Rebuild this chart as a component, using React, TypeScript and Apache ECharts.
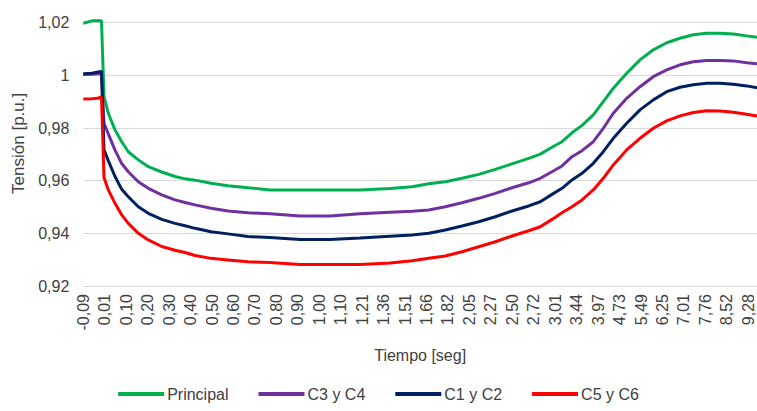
import React, { useEffect, useRef } from "react";
import * as echarts from "echarts";

// Tick labels of the category-like time axis (one label per tick)
const timeLabels = [
  "-0,09", "0,01", "0,10", "0,20", "0,30", "0,40", "0,50", "0,60", "0,70", "0,80",
  "0,90", "1,00", "1,10", "1,21", "1,36", "1,51", "1,66", "1,82", "2,05", "2,27",
  "2,50", "2,72", "3,01", "3,44", "3,97", "4,73", "5,49", "6,25", "7,01", "7,76",
  "8,52", "9,28",
];

// Sample positions along the time axis, in tick units (0 = first tick)
const samplePos = [
  0, 0.406, 0.685, 0.848, 0.965, 1.165, 1.478, 1.79, 2.098, 2.564,
  3.03, 3.655, 4.275, 4.741, 5.207, 5.953, 6.745, 7.678, 8.703, 10.102,
  11.501, 12.899, 14.297, 15.322, 16.101, 16.875, 17.653, 18.432, 19.206, 19.984,
  20.762, 21.304, 21.849, 22.315, 22.781, 23.248, 23.774, 24.24, 24.707, 25.331,
  25.951, 26.571, 27.196, 27.816, 28.436, 29.06, 29.68, 30.3, 30.925, 31.405,
];

const principal = [
  1.0198, 1.0207, 1.0207, 1.0207, 0.9919, 0.9856, 0.9793, 0.9748, 0.971, 0.9679,
  0.9653, 0.9633, 0.9616, 0.9607, 0.9602, 0.959, 0.9581, 0.9573, 0.9565, 0.9565,
  0.9565, 0.9565, 0.957, 0.9577, 0.9588, 0.9596, 0.9609, 0.9624, 0.9643, 0.9664,
  0.9685, 0.9701, 0.9727, 0.9748, 0.9782, 0.981, 0.985, 0.99, 0.9951, 1.0008,
  1.0059, 1.0097, 1.0124, 1.0141, 1.0154, 1.016, 1.016, 1.0157, 1.015, 1.0145,
];

const c3c4 = [
  1.0003, 1.0004, 1.0006, 1.0007, 0.9818, 0.9778, 0.9716, 0.9665, 0.9634, 0.9596,
  0.9571, 0.9546, 0.9527, 0.9517, 0.9508, 0.9495, 0.9485, 0.9478, 0.9474, 0.9466,
  0.9466, 0.9474, 0.948, 0.9484, 0.9489, 0.9501, 0.9516, 0.9533, 0.9552, 0.9573,
  0.9592, 0.9609, 0.9634, 0.9656, 0.9691, 0.9714, 0.9748, 0.9799, 0.9856, 0.9913,
  0.9957, 0.9995, 1.0021, 1.004, 1.0052, 1.0056, 1.0056, 1.0055, 1.0048, 1.0044,
];

const c1c2 = [
  1.0006, 1.0008, 1.0013, 1.0015, 0.9717, 0.9676, 0.9616, 0.9567, 0.9539, 0.9501,
  0.9476, 0.9453, 0.9438, 0.9429, 0.9419, 0.9406, 0.9398, 0.9388, 0.9384, 0.9377,
  0.9377, 0.9382, 0.9389, 0.9394, 0.94, 0.9413, 0.9428, 0.9444, 0.9463, 0.9485,
  0.9504, 0.952, 0.9548, 0.9571, 0.9603, 0.9628, 0.9666, 0.971, 0.9761, 0.9818,
  0.9869, 0.9907, 0.9938, 0.9955, 0.9964, 0.997, 0.997, 0.9966, 0.996, 0.9953,
];

const c5c6 = [
  0.991, 0.9911, 0.9913, 0.9919, 0.9612, 0.9565, 0.9514, 0.947, 0.9438, 0.94,
  0.9375, 0.935, 0.9336, 0.9327, 0.9316, 0.9305, 0.9299, 0.9292, 0.9289, 0.9282,
  0.9282, 0.9282, 0.9287, 0.9296, 0.9305, 0.9314, 0.933, 0.9349, 0.9368, 0.939,
  0.941, 0.9425, 0.9453, 0.9478, 0.9501, 0.9527, 0.9565, 0.9609, 0.966, 0.9717,
  0.9761, 0.9799, 0.9827, 0.9846, 0.9859, 0.9866, 0.9865, 0.986, 0.9852, 0.9846,
];

const seriesDefs = [
  { name: "Principal", color: "#00b050", values: principal },
  { name: "C3 y C4", color: "#7030a0", values: c3c4 },
  { name: "C1 y C2", color: "#002060", values: c1c2 },
  { name: "C5 y C6", color: "#ff0000", values: c5c6 },
];

const FONT = "Liberation Sans, Arial, sans-serif";
const TEXT = "#404040";

const fmtY = (v: number) => {
  let s = v.toFixed(2).replace(/0+$/, "").replace(/\.$/, "");
  return s.replace(".", ",");
};

export default function App() {
  const ref = useRef<HTMLDivElement>(null);
  useEffect(() => {
    if (!ref.current) return;
    const chart = echarts.init(ref.current, undefined, { renderer: "svg" });
    chart.setOption({
      animation: false,
      backgroundColor: "#ffffff",
      grid: { left: 83.3, right: 0, top: 22.7, bottom: 125, containLabel: false },
      legend: {
        top: 386,
        left: "center",
        icon: "rect",
        itemWidth: 46,
        itemHeight: 4,
        itemGap: 30,
        padding: 0,
        textStyle: { fontFamily: FONT, fontSize: 16, color: TEXT, padding: [0, 0, 0, -2] },
        data: seriesDefs.map((s) => s.name),
      },
      xAxis: {
        type: "value",
        min: 0,
        max: samplePos[samplePos.length - 1],
        interval: 1,
        name: "Tiempo [seg]",
        nameLocation: "middle",
        nameGap: 61,
        nameTextStyle: { fontFamily: FONT, fontSize: 16, color: TEXT },
        axisLine: { show: true, lineStyle: { color: "#d9d9d9", width: 1 } },
        axisTick: { show: false },
        splitLine: { show: false },
        axisLabel: {
          rotate: 90,
          margin: 8,
          fontFamily: FONT,
          fontSize: 16,
          color: TEXT,
          showMaxLabel: false,
          formatter: (v: number) => {
            const i = Math.round(v);
            return Math.abs(v - i) < 1e-6 && timeLabels[i] ? timeLabels[i] : "";
          },
        },
      },
      yAxis: {
        type: "value",
        min: 0.92,
        max: 1.02,
        interval: 0.02,
        name: "Tensión [p.u.]",
        nameLocation: "middle",
        nameGap: 55,
        nameTextStyle: { fontFamily: FONT, fontSize: 17, color: TEXT, padding: [0, 0, 0, 22] },
        axisLine: { show: false },
        axisTick: { show: false },
        splitLine: { show: true, lineStyle: { color: "#d9d9d9", width: 1 } },
        axisLabel: { margin: 14, fontFamily: FONT, fontSize: 16, color: TEXT, formatter: fmtY },
      },
      series: seriesDefs.map((s) => ({
        name: s.name,
        type: "line",
        symbol: "none",
        clip: false,
        color: s.color,
        itemStyle: { color: s.color },
        lineStyle: { color: s.color, width: 3 },
        data: samplePos.map((p, i) => [p, s.values[i]]),
      })),
    });
    return () => chart.dispose();
  }, []);
  return (
    <div
      ref={ref}
      style={{ position: "fixed", left: 0, top: 0, width: 757, height: 411 }}
    />
  );
}
